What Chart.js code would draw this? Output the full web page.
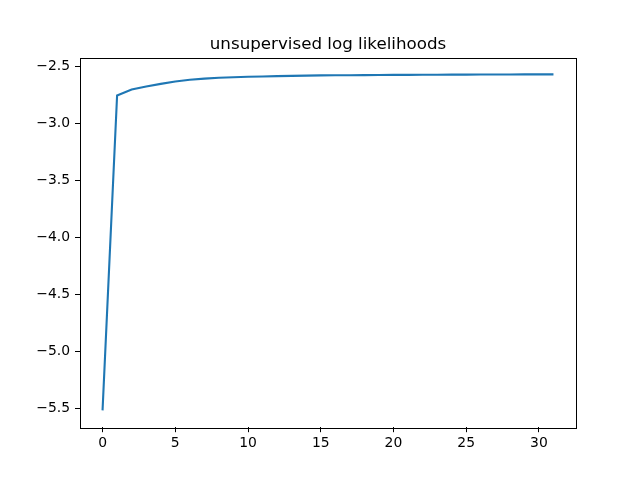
<!DOCTYPE html>
<html>
<head>
<meta charset="utf-8">
<script src="https://cdn.jsdelivr.net/npm/chart.js@4"></script>
<style>
  html, body { margin: 0; padding: 0; background: #fff; }
  canvas { display: block; }
</style>
</head>
<body>
<canvas id="chart" width="640" height="480"></canvas>
<script>
"use strict";

// data
const chartTitle = "unsupervised log likelihoods";
const iterations = [0, 1, 2, 3, 4, 5, 6, 7, 8, 9, 10, 11, 12, 13, 14, 15,
  16, 17, 18, 19, 20, 21, 22, 23, 24, 25, 26, 27, 28, 29, 30, 31];
const logLikelihoods = [-5.52, -2.754, -2.701, -2.675, -2.652, -2.631, -2.616, -2.606,
  -2.599, -2.594, -2.590, -2.587, -2.584, -2.582, -2.580, -2.578,
  -2.577, -2.576, -2.575, -2.574, -2.573, -2.573, -2.572, -2.572,
  -2.571, -2.571, -2.570, -2.570, -2.570, -2.569, -2.569, -2.569];
const xTicks = [0, 5, 10, 15, 20, 25, 30];
const yTicks = [-5.5, -5.0, -4.5, -4.0, -3.5, -3.0, -2.5];

const points = iterations.map((x, i) => ({ x: x, y: logLikelihoods[i] }));

// matplotlib style 5% margins
const xMin = Math.min(...iterations), xMax = Math.max(...iterations);
const yMin = Math.min(...logLikelihoods), yMax = Math.max(...logLikelihoods);
const xPad = (xMax - xMin) * 0.05;
const yPad = (yMax - yMin) * 0.05;

const tickFont = { family: "DejaVu Sans", size: 13.9 };

function minusSign(v, digits) {
  return v.toFixed(digits).replace("-", "\u2212");
}

const frameAndTitle = {
  id: "frameAndTitle",
  afterDraw(chart) {
    const ctx = chart.ctx;
    const a = chart.chartArea;
    ctx.save();
    ctx.strokeStyle = "#000";
    ctx.lineWidth = 1;
    ctx.strokeRect(Math.round(a.left) + 0.5, Math.round(a.top) + 0.5,
      Math.round(a.right - a.left), Math.round(a.bottom - a.top));
    ctx.fillStyle = "#000";
    ctx.font = "16.7px 'DejaVu Sans'";
    ctx.textAlign = "center";
    ctx.textBaseline = "alphabetic";
    ctx.fillText(chartTitle, (a.left + a.right) / 2, a.top - 8.3);
    ctx.restore();
  }
};

const config = {
  type: "line",
  data: {
    datasets: [{
      data: points,
      borderColor: "#1f77b4",
      borderWidth: 2.1,
      pointRadius: 0,
      tension: 0,
      fill: false
    }]
  },
  options: {
    responsive: false,
    animation: false,
    layout: { padding: { left: 0, top: 57.6, right: 64, bottom: 0 } },
    plugins: {
      legend: { display: false },
      title: { display: false },
      tooltip: { enabled: false }
    },
    scales: {
      x: {
        type: "linear",
        min: xMin - xPad,
        max: xMax + xPad,
        afterBuildTicks(axis) { axis.ticks = xTicks.map(v => ({ value: v })); },
        afterFit(axis) { axis.height = 52.8; },
        grid: { drawOnChartArea: false, drawTicks: true, tickLength: 5, color: "#000" },
        border: { display: false },
        ticks: {
          color: "#000",
          font: tickFont,
          padding: 3,
          maxRotation: 0,
          callback: v => minusSign(v, 0)
        }
      },
      y: {
        type: "linear",
        min: yMin - yPad,
        max: yMax + yPad,
        afterBuildTicks(axis) { axis.ticks = yTicks.map(v => ({ value: v })); },
        afterFit(axis) { axis.width = 80; },
        grid: { drawOnChartArea: false, drawTicks: true, tickLength: 5, color: "#000" },
        border: { display: false },
        ticks: {
          color: "#000",
          font: tickFont,
          padding: 5,
          callback: v => minusSign(v, 1)
        }
      }
    }
  },
  plugins: [frameAndTitle]
};

new Chart(document.getElementById("chart"), config);
</script>
</body>
</html>
